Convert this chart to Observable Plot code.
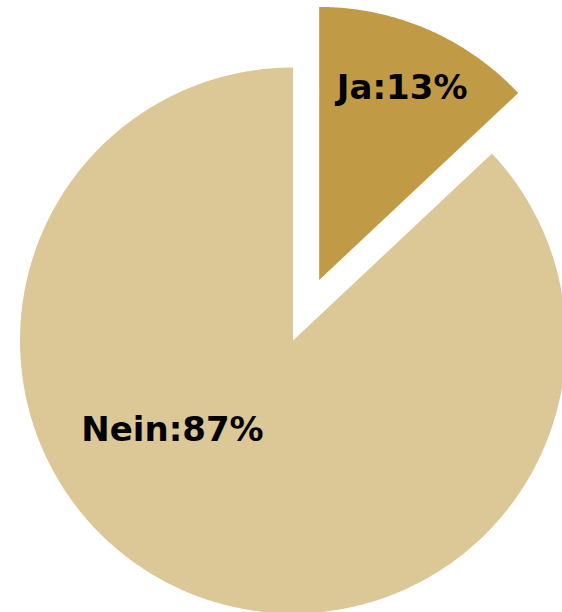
<!DOCTYPE html>
<html>
<head>
<meta charset="utf-8">
<script src="https://cdn.jsdelivr.net/npm/d3@7"></script>
<script src="https://cdn.jsdelivr.net/npm/@observablehq/plot@0.6"></script>
<style>
html, body { margin: 0; padding: 0; background: #fff; }
#chart svg { display: block; }
</style>
</head>
<body>
<div id="chart"></div>
<script>
// Data
const categories = ["Ja", "Nein"];
const shares = [13, 87];
const colors = ["#C09A45", "#DCC797"];

// Layout (pixel units in scale space)
const W = 562, H = 612;
const R = 273;
const explode = [66, 0];
const labelRadius = [0.765, 0.55];
const labelAngleShift = [0, 30]; // degrees relative to slice bisector

const pie = d3.pie().sort(null).value(d => d.value)(
  categories.map((c, i) => ({ cat: c, value: shares[i], i }))
);

const polys = [];
const labels = [];
pie.forEach(a => {
  const i = a.data.i;
  const mid = (a.startAngle + a.endAngle) / 2;
  const ox = explode[i] * Math.sin(mid), oy = explode[i] * Math.cos(mid);
  const n = Math.max(8, Math.ceil((a.endAngle - a.startAngle) * 120));
  polys.push({ cat: a.data.cat, x: ox, y: oy, k: 0 });
  for (let j = 0; j <= n; j++) {
    const t = a.startAngle + (a.endAngle - a.startAngle) * j / n;
    polys.push({ cat: a.data.cat, x: ox + R * Math.sin(t), y: oy + R * Math.cos(t), k: j + 1 });
  }
  polys.push({ cat: a.data.cat, x: ox, y: oy, k: n + 2 });
  const la = mid + labelAngleShift[i] * Math.PI / 180;
  labels.push({
    cat: a.data.cat,
    text: `${a.data.cat}:${a.data.value}%`,
    x: ox + labelRadius[i] * R * Math.sin(la),
    y: oy + labelRadius[i] * R * Math.cos(la)
  });
});

const chart = Plot.plot({
  width: W,
  height: H,
  margin: 0,
  x: { domain: [-292.5, W - 292.5], axis: null },
  y: { domain: [-(H - 340), 340], axis: null },
  color: { domain: categories, range: colors },
  marks: [
    Plot.line(polys, { x: "x", y: "y", z: "cat", fill: "cat", stroke: "none", curve: "linear-closed" }),
    Plot.text(labels, {
      x: "x", y: "y", text: "text",
      fontSize: 34, fontWeight: "bold", fill: "#000",
      fontFamily: "'DejaVu Sans', sans-serif",
      textAnchor: "middle", lineAnchor: "middle"
    })
  ]
});
document.getElementById("chart").appendChild(chart);
</script>
</body>
</html>
